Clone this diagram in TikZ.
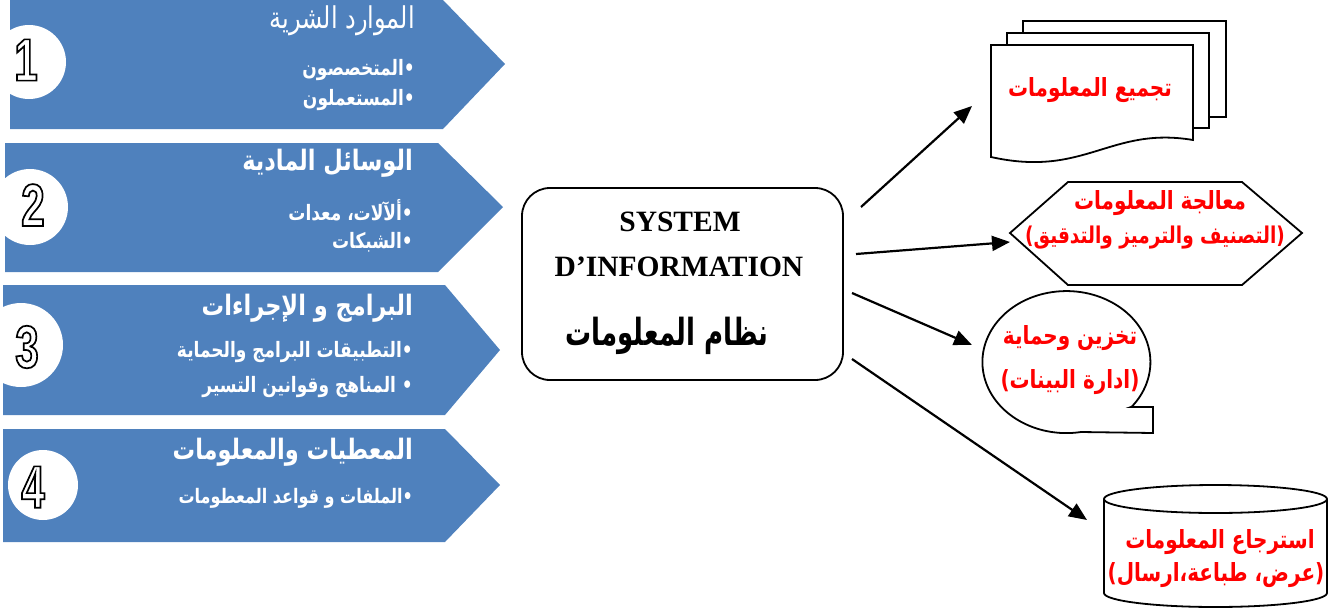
\documentclass[tikz,border=0pt]{standalone}
\usepackage{fontspec}
\usepackage{graphicx}
\usetikzlibrary{arrows.meta}
\setmainfont{Liberation Serif}
\newfontfamily\arabicfont[Script=Arabic]{DejaVu Sans}
\newfontfamily\digitfont[FakeStretch=0.7]{Liberation Sans}
\TeXXeTstate=1
\definecolor{panelblue}{RGB}{79,129,189}
\newcommand\outlinetext[1]{\special{pdf:literal direct 1 Tr 1.7 w}#1\special{pdf:literal direct 0 Tr}}
\newcommand\artxt[1]{\scalebox{1}[1.25]{\arabicfont\beginR #1\endR}}
\tikzset{
  panel/.style={fill=panelblue},
  numdisc/.style={fill=white},
  numtext/.style={font=\digitfont\bfseries\fontsize{60}{60}\selectfont, inner sep=0pt},
  ptitle/.style={anchor=east, text=white, inner sep=0pt, font=\arabicfont\fontsize{24}{28}\selectfont},
  ptitleb/.style={ptitle, font=\arabicfont\bfseries\fontsize{22.5}{26}\selectfont},
  pitem/.style={anchor=east, text=white, inner sep=0pt, font=\arabicfont\bfseries\fontsize{17}{20}\selectfont},
  redtext/.style={text=red, inner sep=0pt, font=\arabicfont\bfseries\fontsize{20}{24}\selectfont},
  outline/.style={draw=black, line width=1.8pt, fill=white},
  conn/.style={line width=2.2pt, -{Triangle[length=18pt,width=15pt]}},
}
\begin{document}
\begin{tikzpicture}[x=1pt,y=-1pt]
\useasboundingbox (0,0) rectangle (1334,611);
% ---------- left panels ----------
\fill[panel] (10,0) -- (443,0) -- (505,64) -- (443,129) -- (10,129) -- cycle;
\fill[panel] (5,143) -- (438,143) -- (503,207) -- (438,272) -- (5,272) -- cycle;
\fill[panel] (3,285) -- (445,285) -- (500,350) -- (445,415) -- (3,415) -- cycle;
\fill[panel] (3,429) -- (445,429) -- (500,485) -- (445,542) -- (3,542) -- cycle;
\fill[numdisc] (29,62) circle[radius=37];
\fill[numdisc] (30,207) circle[radius=38];
\fill[numdisc] (21,345) circle[radius=42];
\fill[numdisc] (43,485) circle[radius=35];
\node[numtext] (n1) at (26,60) {\outlinetext{1}};
\node[numtext] (n2) at (33,205) {\outlinetext{2}};
\node[numtext] (n3) at (27,347) {\outlinetext{3}};
\node[numtext] (n4) at (33,487) {\outlinetext{4}};
% panel texts
\node[ptitle] (p1t) at (415,21) {\artxt{الموارد الشرية}};
\node[pitem] (p1a) at (415,70) {\artxt{•المتخصصون}};
\node[pitem] (p1b) at (415,100) {\artxt{•المستعملون}};
\node[ptitleb] (p2t) at (413,163) {\artxt{الوسائل المادية}};
\node[pitem] (p2a) at (413,210) {\artxt{•ألآلات، معدات}};
\node[pitem] (p2b) at (413,242) {\artxt{•الشبكات}};
\node[ptitleb] (p3t) at (413,308) {\artxt{البرامج و الإجراءات}};
\node[pitem] (p3a) at (413,352) {\artxt{•التطبيقات البرامج والحماية}};
\node[pitem] (p3b) at (413,387) {\artxt{• المناهج وقوانين التسير}};
\node[ptitleb] (p4t) at (413,452) {\artxt{المعطيات والمعلومات}};
\node[pitem, font=\arabicfont\bfseries\fontsize{16}{19}\selectfont] (p4a) at (413,498) {\artxt{•الملفات و قواعد المعطومات}};
% ---------- center box ----------
\node[draw, line width=1.8pt, rounded corners=28pt, minimum width=321pt, minimum height=192pt] (sys) at (682.5,284) {};
\node[inner sep=0pt, font=\bfseries\fontsize{29.5}{32}\selectfont] (sys1) at (680,222) {SYSTEM};
\node[inner sep=0pt, font=\bfseries\fontsize{29.5}{32}\selectfont] (sys2) at (679,267) {D’INFORMATION};
\node[inner sep=0pt, font=\arabicfont\bfseries\fontsize{26}{30}\selectfont] (sys3) at (667,336) {\scalebox{1}[1.15]{\artxt{نظام المعلومات}}};
% ---------- right shapes ----------
% documents
\draw[outline] (1023,21) rectangle (1226,117);
\draw[outline] (1007,33) rectangle (1209,128);
\draw[outline] (991,45) -- (1193,45) -- (1193,140) .. controls (1110,126) and (1085,178) .. (991,157) -- cycle;
\node[redtext] (doc) at (1090,90) {\artxt{تجميع المعلومات}};
% hexagon
\draw[outline] (1010,233) -- (1068,182) -- (1242,182) -- (1302,233) -- (1242,285) -- (1068,285) -- cycle;
\node[redtext] (hex1) at (1160,203) {\artxt{معالجة المعلومات}};
\node[redtext, font=\arabicfont\bfseries\fontsize{18.5}{22}\selectfont] (hex2) at (1155,238) {\artxt{(التصنيف والترميز والتدقيق)}};
% callout bubble
\draw[outline] (1131,407) -- (1153,407) -- (1153,433) -- (1081,432) arc[start angle=80, end angle=399, x radius=84, y radius=71] -- cycle;
\node[redtext] (bub1) at (1070,338) {\artxt{تخزين وحماية}};
\node[redtext] (bub2) at (1070,382) {\artxt{(ادارة البينات)}};
% cylinder
\draw[outline] (1104,499) -- (1104,593) arc[start angle=180, end angle=0, x radius=111.5, y radius=14] -- (1327,499);
\draw[outline] (1215.5,499) ellipse[x radius=111.5, y radius=14];
\node[redtext] (cyl1) at (1220,542) {\artxt{استرجاع المعلومات}};
\node[redtext] (cyl2) at (1216,575) {\artxt{(عرض، طباعة،ارسال)}};
% ---------- connectors ----------
\coordinate (a1s) at (861,207); \coordinate (a1e) at (972,106);
\coordinate (a2s) at (856,254); \coordinate (a2e) at (1010,242);
\coordinate (a3s) at (852,293); \coordinate (a3e) at (972,345);
\coordinate (a4s) at (852,359); \coordinate (a4e) at (1087,520);
\draw[conn] (a1s) -- (a1e);
\draw[conn] (a2s) -- (a2e);
\draw[conn] (a3s) -- (a3e);
\draw[conn] (a4s) -- (a4e);
\end{tikzpicture}
\end{document}
